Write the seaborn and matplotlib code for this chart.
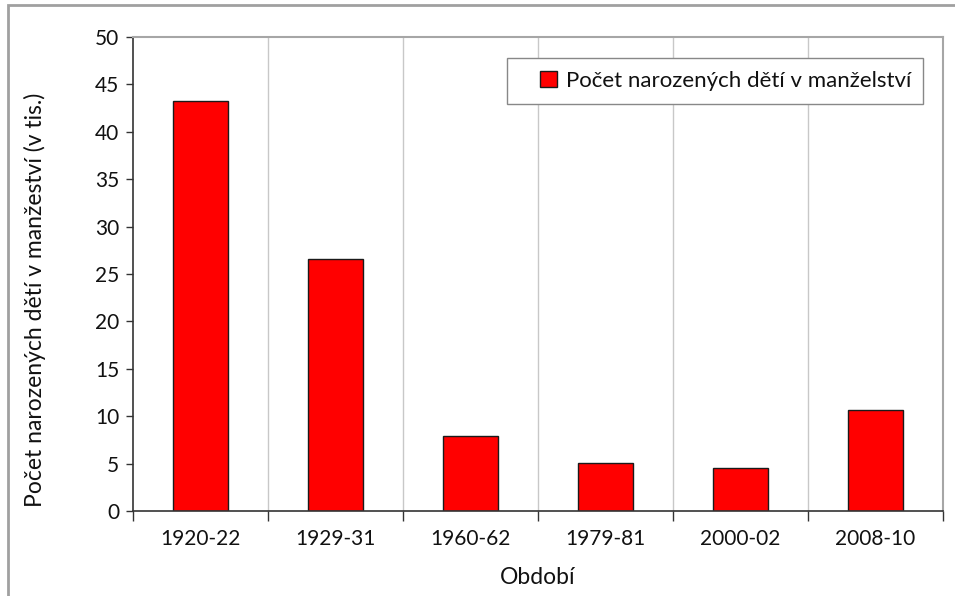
import pandas as pd
import matplotlib.pyplot as plt
import seaborn as sns
from matplotlib.patches import Rectangle

obdobi = ["1920-22", "1929-31", "1960-62", "1979-81", "2000-02", "2008-10"]
pocet = [43.3, 26.6, 7.9, 5.05, 4.55, 10.7]

df = pd.DataFrame({"Období": obdobi, "Počet": pocet})

sns.set_style("white")
plt.rcParams["font.family"] = ["Lato", "DejaVu Sans"]

fig = plt.figure(figsize=(9.55, 5.96), dpi=100)
ax = fig.add_axes([133 / 955, 1 - 511 / 596, 810 / 955, 474 / 596])

sns.barplot(data=df, x="Období", y="Počet", color="#ff0000", edgecolor="#1a1a1a",
            linewidth=1.0, width=0.41, saturation=1, ax=ax,
            label="Počet narozených dětí v manželství")

ax.set_ylim(0, 50)
ax.set_yticks(range(0, 51, 5))
ax.set_xlim(-0.5, len(obdobi) - 0.5)

# vertical grid lines between the categories
for b in range(1, len(obdobi)):
    ax.axvline(b - 0.5, color="#c8c8c8", lw=1, zorder=0)

ax.set_xticks([i for i in range(len(obdobi))])
ax.set_xticklabels(obdobi)
ax.tick_params(axis="x", length=0, labelsize=15, colors="#111111", pad=13)
ax.tick_params(axis="y", length=5, width=1, direction="out", color="#333333",
               labelsize=15, labelcolor="#111111", left=True, pad=5)
# minor ticks at category boundaries on x axis
ax.set_xticks([i - 0.5 for i in range(len(obdobi) + 1)], minor=True)
ax.tick_params(axis="x", which="minor", length=7, width=1, direction="out",
               color="#333333", bottom=True)

for s in ["left", "bottom"]:
    ax.spines[s].set_color("#333333")
    ax.spines[s].set_linewidth(1.2)
for s in ["top", "right"]:
    ax.spines[s].set_visible(True)
    ax.spines[s].set_color("#a6a6a6")
    ax.spines[s].set_linewidth(1.5)

ax.set_xlabel("Období", fontsize=16.5, color="#111111")
ax.xaxis.set_label_coords(0.5, -0.118)
ax.set_ylabel("Počet narozených dětí v manžeství (v tis.)", fontsize=16.5,
              color="#111111", va="center")
ax.yaxis.set_label_coords(-0.121, 0.445)

# legend box drawn separately so its padding matches the original
ax.add_patch(Rectangle((0.4617, 0.8586), 0.5136, 0.097, transform=ax.transAxes,
                       facecolor="white", edgecolor="#888888", lw=1.0, zorder=4))
leg = ax.legend(loc="center left", bbox_to_anchor=(0.5025, 0.907), fontsize=16,
                frameon=False, handlelength=0.75, handleheight=0.75,
                handletextpad=0.4, borderpad=0, borderaxespad=0)
leg.set_zorder(5)
for t in leg.get_texts():
    t.set_color("#111111")

# outer chart border
fig.patches.append(Rectangle((8 / 955, -0.1), 1.2, 1 - 5 / 596 + 0.1,
                             transform=fig.transFigure, fill=False,
                             edgecolor="#a0a0a0", lw=2))

plt.savefig("out.png", dpi=100)
